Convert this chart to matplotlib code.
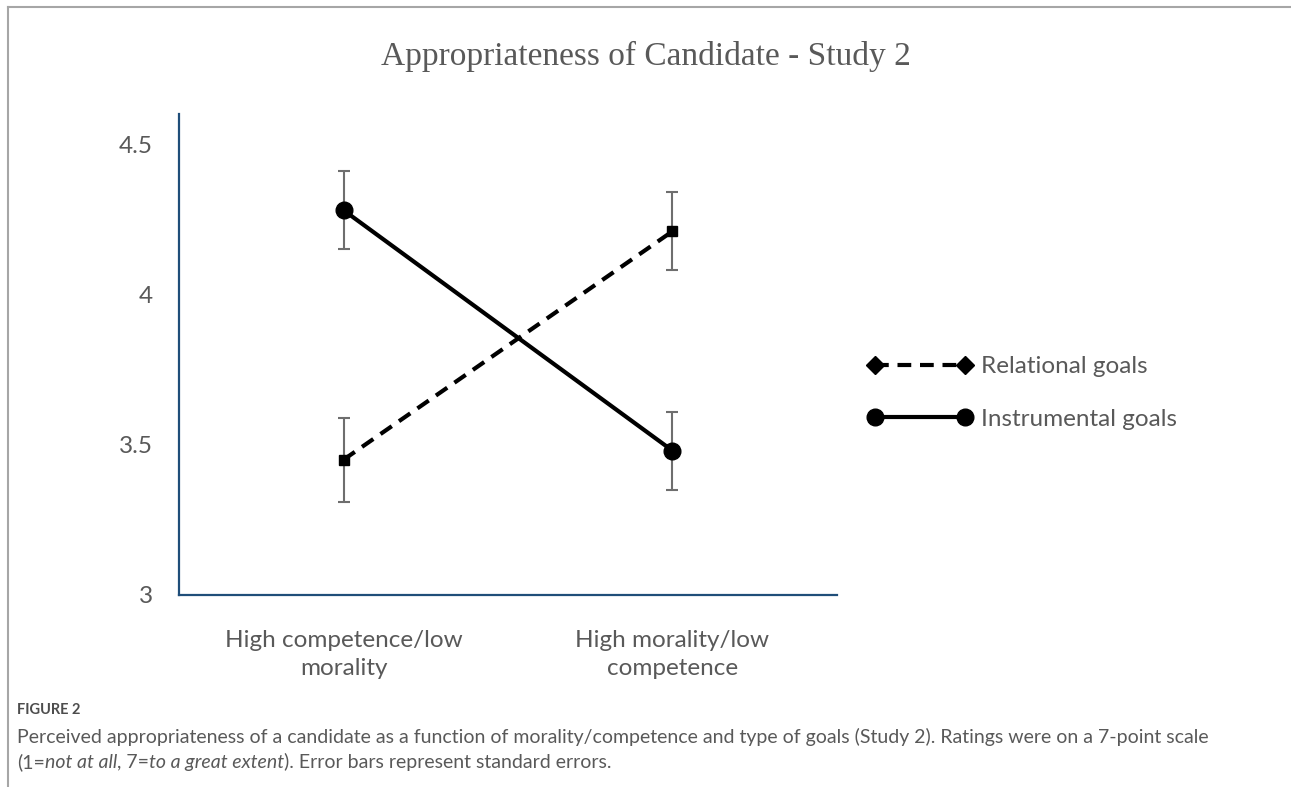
import matplotlib
matplotlib.use("Agg")
import matplotlib.pyplot as plt
from matplotlib.lines import Line2D
import numpy as np

# data
categories = ["High competence/low\nmorality", "High morality/low\ncompetence"]
relational = [3.45, 4.21]
relational_se = [0.14, 0.13]
instrumental = [4.28, 3.48]
instrumental_se = [0.13, 0.13]
yticks = [3, 3.5, 4, 4.5]
ytick_labels = ["3", "3.5", "4", "4.5"]
series_names = ["Relational goals", "Instrumental goals"]

GREY_TXT = "#595959"
AXIS_BLUE = "#1F4E79"
ERR_GREY = "#6E6E6E"
SANS = ["Lato", "DejaVu Sans"]
DASH = (0, (3.3, 2.1))

plt.rcParams["font.family"] = SANS

fig = plt.figure(figsize=(12.91, 7.87), dpi=100)
ax = fig.add_axes([0.1387, 0.2440, 0.5096, 0.6111])

x = np.arange(len(categories))

ax.errorbar(x, relational, yerr=relational_se, fmt="none", ecolor=ERR_GREY,
            elinewidth=1.5, capsize=4.3, capthick=1.5, zorder=2)
ax.errorbar(x, instrumental, yerr=instrumental_se, fmt="none", ecolor=ERR_GREY,
            elinewidth=1.5, capsize=4.3, capthick=1.5, zorder=2)
ax.plot(x, relational, color="black", linestyle=DASH, linewidth=3.0,
        marker="s", markersize=7.5, zorder=3)
ax.plot(x, instrumental, color="black", linestyle="-", linewidth=3.0,
        marker="o", markersize=12, zorder=3)

ax.set_xlim(-0.5, 1.5)
ax.set_ylim(3, 4.6)
ax.set_yticks(yticks)
ax.set_yticklabels(ytick_labels)
ax.set_xticks(x)
ax.set_xticklabels(categories)
for t in ax.get_xticklabels():
    t.set_linespacing(1.45)
ax.tick_params(axis="both", length=0, labelsize=17.5, labelcolor=GREY_TXT)
ax.tick_params(axis="y", pad=19)
ax.tick_params(axis="x", pad=25)
for s in ("top", "right"):
    ax.spines[s].set_visible(False)
for s in ("left", "bottom"):
    ax.spines[s].set_color(AXIS_BLUE)
    ax.spines[s].set_linewidth(1.6)

# legend (Excel style: marker at both ends)
handles = [
    Line2D([], [], color="black", linestyle=DASH, linewidth=3.0,
           marker="D", markersize=9),
    Line2D([], [], color="black", linestyle="-", linewidth=3.0,
           marker="o", markersize=12),
]
fig.legend(handles, series_names, numpoints=2,
           loc="center left", bbox_to_anchor=(0.6720, 0.5005),
           frameon=False, fontsize=17.5, labelcolor=GREY_TXT,
           handlelength=4.3, handletextpad=0.35, labelspacing=1.3,
           borderpad=0, borderaxespad=0)

fig.text(0.5, 0.928, "Appropriateness of Candidate - Study 2",
         ha="center", va="center", fontsize=24, color=GREY_TXT,
         family=["Liberation Serif", "DejaVu Serif"])

# frame lines of the figure panel
fig.add_artist(Line2D([0.0062, 1.0], [0.9911, 0.9911], color="#A6A6A6",
                      linewidth=1.5, transform=fig.transFigure))
fig.add_artist(Line2D([0.0062, 0.0062], [0.0, 0.9911], color="#A6A6A6",
                      linewidth=1.5, transform=fig.transFigure))

# caption
fig.text(0.0132, 0.098, "FIGURE 2", ha="left", va="center", fontsize=10.5,
         color="#4D4D4D", weight="bold")
fig.text(0.0132, 0.0635,
         "Perceived appropriateness of a candidate as a function of morality/competence "
         "and type of goals (Study 2). Ratings were on a 7-point scale",
         ha="left", va="center", fontsize=14, color=GREY_TXT)

# second caption line with italic parts, pieces chained left to right
pieces = [("(1=", "normal"), ("not at all", "italic"), (", 7=", "normal"),
          ("to a great extent", "italic"),
          ("). Error bars represent standard errors.", "normal")]
prev = fig.text(0.0132, 0.032, pieces[0][0], ha="left", va="center",
                fontsize=14, color=GREY_TXT)
for txt, style in pieces[1:]:
    prev = ax.annotate(txt, xy=(1, 0), xycoords=prev, ha="left", va="bottom",
                       fontsize=14, color=GREY_TXT, style=style,
                       annotation_clip=False)

fig.savefig("out.png", dpi=100)
